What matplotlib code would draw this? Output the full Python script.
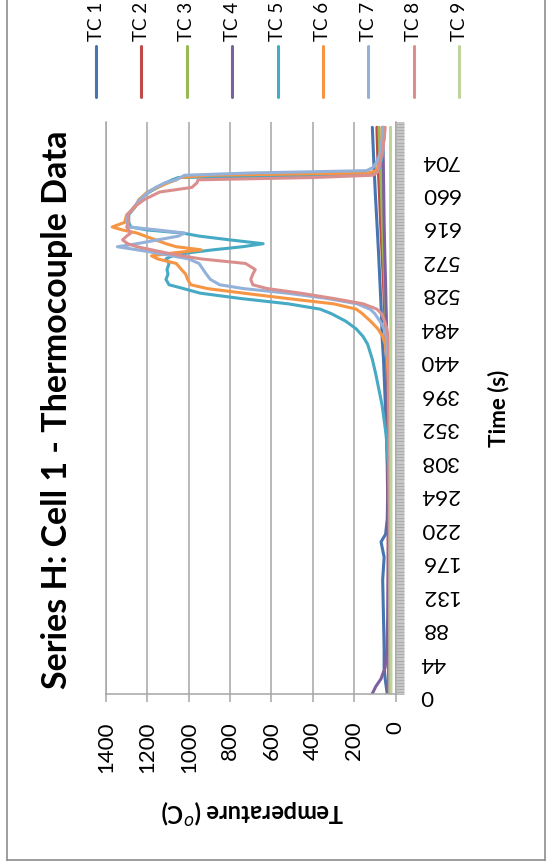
import matplotlib
matplotlib.use("Agg")
import matplotlib.pyplot as plt
from matplotlib.lines import Line2D
from matplotlib.ticker import MultipleLocator

plt.rcParams["font.family"] = ["Lato", "DejaVu Sans"]

# time (s) for the slowly changing channels
t_low = [0, 10, 20, 35, 60, 100, 150, 180, 200, 210, 230, 260, 300, 350,
         400, 440, 470, 500, 540, 580, 620, 660, 700, 745]
tc1 = [40, 45, 50, 55, 55, 58, 62, 55, 70, 48, 40, 38, 40, 45,
       52, 58, 65, 68, 75, 82, 90, 98, 105, 112]
tc2 = [35, 35, 34, 34, 34, 34, 35, 35, 35, 35, 35, 36, 37, 38,
       40, 43, 47, 52, 58, 65, 72, 78, 85, 90]
tc3 = [30, 30, 30, 30, 30, 31, 31, 31, 32, 32, 32, 33, 34, 35,
       37, 40, 43, 47, 52, 58, 63, 68, 74, 80]
tc4 = [113, 95, 70, 50, 42, 38, 36, 35, 35, 35, 35, 35, 36, 37,
       38, 40, 42, 45, 48, 52, 55, 57, 59, 62]
tc9 = [22, 22, 22, 22, 22, 22, 22, 22, 22, 22, 22, 22, 22, 23,
       23, 23, 23, 23, 23, 23, 24, 24, 24, 24]

# time (s) for the channels that see the burn
t_hot = [0, 60, 120, 180, 240, 300, 340, 380, 420, 440, 460, 470, 480, 490,
         500, 506, 513, 520, 527, 533, 538, 545, 552, 558, 566, 572, 576, 580,
         584, 588, 592, 597, 602, 606, 610, 614, 620, 630, 640, 650, 660, 666,
         672, 676, 679, 682, 685, 688, 692, 700, 710, 720, 730, 745]
tc5 = [28, 28, 29, 30, 31, 35, 45, 65, 95, 112, 135, 157, 190, 240,
       310, 365, 520, 750, 945, 1025, 1095, 1110, 1100, 1105, 1095, 1110, 1080, 1000,
       880, 740, 640, 800, 950, 1030, 1200, 1280, 1290, 1290, 1260, 1240, 1190, 1150,
       1110, 1080, 1050, 300, 110, 85, 75, 70, 60, 65, 55, 60]
tc6 = [27, 27, 28, 28, 29, 30, 31, 33, 36, 40, 50, 62, 85, 120,
       160, 190, 300, 525, 735, 910, 990, 1005, 1015, 1035, 1060, 1150, 1180, 1070,
       940, 1060, 1110, 1160, 1210, 1250, 1320, 1370, 1310, 1300, 1260, 1240, 1200, 1150,
       1100, 1060, 1040, 900, 130, 95, 85, 80, 70, 70, 65, 65]
tc7 = [26, 26, 27, 27, 28, 28, 29, 30, 32, 35, 40, 45, 55, 75,
       100, 123, 186, 330, 525, 735, 850, 895, 915, 930, 950, 1000, 1080, 1160,
       1250, 1345, 1250, 1150, 1050, 1020, 1150, 1290, 1300, 1295, 1265, 1235, 1195, 1160,
       1115, 1060, 1040, 1020, 700, 140, 110, 90, 75, 70, 65, 60]
tc8 = [25, 25, 26, 26, 27, 27, 28, 29, 30, 32, 34, 36, 42, 52,
       68, 90, 157, 300, 460, 620, 690, 700, 690, 678, 725, 940, 1030, 1110,
       1180, 1250, 1295, 1320, 1300, 1280, 1290, 1300, 1290, 1295, 1265, 1215, 1140, 985,
       960, 955, 400, 110, 90, 85, 80, 75, 65, 60, 55, 50]

names = ["TC 1", "TC 2", "TC 3", "TC 4", "TC 5", "TC 6", "TC 7", "TC 8", "TC 9"]
colors = ["#4675B0", "#BE4B48", "#98B954", "#7D60A0", "#46AAC5",
          "#F69544", "#94B1D9", "#DA8F8E", "#BFD49D"]

temp_ticks = [0, 200, 400, 600, 800, 1000, 1200, 1400]
time_ticks = [0, 44, 88, 132, 176, 220, 264, 308, 352, 396, 440, 484, 528,
              572, 616, 660, 704]

W, H = 547, 863
GRID = "#a6a6a6"


def fx(px):
    return px / W


def fy(py):
    return 1 - py / H


def main():
    fig = plt.figure(figsize=(W / 100, H / 100), dpi=100)
    ax = fig.add_axes([fx(106), fy(694), fx(395.5) - fx(106), fy(122) - fy(694)])

    series = [(t_low, tc1), (t_low, tc2), (t_low, tc3), (t_low, tc4),
              (t_hot, tc5), (t_hot, tc6), (t_hot, tc7), (t_hot, tc8), (t_low, tc9)]
    for (t, vals), c in zip(series, colors):
        # chart is turned on its side: temperature across, time up
        ax.plot(vals, t, color=c, lw=2.2, solid_capstyle="round")

    ax.set_xlim(1400, 0)
    ax.set_ylim(0, 752)

    ax.set_xticks(temp_ticks)
    ax.set_xticklabels([str(v) for v in temp_ticks], rotation=90)
    ax.grid(axis="x", color=GRID, lw=1.1)
    ax.set_axisbelow(True)

    ax.yaxis.tick_right()
    ax.set_yticks(time_ticks)
    ax.set_yticklabels([str(v) for v in time_ticks], rotation=180)
    ax.yaxis.set_minor_locator(MultipleLocator(1))

    ax.tick_params(axis="x", length=6, width=1.1, color=GRID, pad=13.5, labelsize=16)
    ax.tick_params(axis="y", which="major", length=6, width=0.5, color="#9a9a9a",
                   pad=12, labelsize=16)
    ax.tick_params(axis="y", which="minor", length=6, width=0.4, color="#9a9a9a")

    ax.spines["top"].set_visible(False)
    for s in ["left", "bottom", "right"]:
        ax.spines[s].set_color(GRID)
        ax.spines[s].set_linewidth(1.1)

    fig.text(fx(57), fy(410), "Series H: Cell 1 - Thermocouple Data", rotation=90,
             ha="center", va="center", fontsize=24.5, fontweight="bold")
    fig.text(fx(499), fy(408), "Time (s)", rotation=90,
             ha="center", va="center", fontsize=16, fontweight="bold")
    fig.text(fx(252), fy(812), "Temperature ($^{o}$C)", rotation=180,
             ha="center", va="center", fontsize=17, fontweight="bold")

    # legend along the top, entries turned too
    for i, (name, c) in enumerate(zip(names, colors)):
        x = 96 + 45.4 * i
        fig.add_artist(Line2D([fx(x), fx(x)], [fy(46), fy(97)], color=c, lw=2.2,
                              solid_capstyle="round"))
        fig.text(fx(x), fy(41), name, rotation=90, ha="center", va="bottom",
                 fontsize=13.5)

    # chart area border (top is cut off)
    border = "#8c8c8c"
    fig.add_artist(Line2D([fx(7), fx(7)], [1, fy(860)], color=border, lw=1.2))
    fig.add_artist(Line2D([fx(7), fx(545)], [fy(860), fy(860)], color=border, lw=1.2))
    fig.add_artist(Line2D([fx(545), fx(545)], [fy(860), 1], color=border, lw=1.2))

    fig.savefig("out.png", dpi=100)


if __name__ == "__main__":
    main()
